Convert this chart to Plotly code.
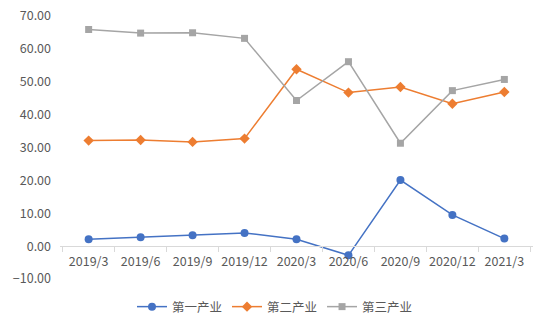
import plotly.graph_objects as go

categories = ["2019/3", "2019/6", "2019/9", "2019/12", "2020/3", "2020/6", "2020/9", "2020/12", "2021/3"]
primary = [2.1, 2.7, 3.3, 4.0, 2.1, -2.8, 20.1, 9.5, 2.3]
secondary = [32.1, 32.3, 31.7, 32.7, 53.8, 46.7, 48.4, 43.3, 46.9]
tertiary = [65.9, 64.8, 64.9, 63.2, 44.3, 56.1, 31.3, 47.3, 50.7]
series_names = ["第一产业", "第二产业", "第三产业"]
ytick_vals = [-10, 0, 10, 20, 30, 40, 50, 60, 70]

font = "Noto Sans CJK SC, Microsoft YaHei, sans-serif"
fig = go.Figure()
fig.add_trace(go.Scatter(x=categories, y=primary, name=series_names[0], mode="lines+markers",
                         line=dict(color="#4472C4", width=1.5), marker=dict(symbol="circle", size=8, color="#4472C4")))
fig.add_trace(go.Scatter(x=categories, y=secondary, name=series_names[1], mode="lines+markers",
                         line=dict(color="#ED7D31", width=1.5), marker=dict(symbol="diamond", size=8, color="#ED7D31")))
fig.add_trace(go.Scatter(x=categories, y=tertiary, name=series_names[2], mode="lines+markers",
                         line=dict(color="#A5A5A5", width=1.5), marker=dict(symbol="square", size=7, color="#A5A5A5")))

fig.update_layout(
    width=550, height=330,
    margin=dict(l=60, r=17, t=16, b=51, autoexpand=False),
    paper_bgcolor="white", plot_bgcolor="white",
    font=dict(family=font, size=12, color="#595959"),
    showlegend=True,
    legend=dict(orientation="h", x=0.5, xanchor="center", xref="container",
                y=23/330, yanchor="middle", yref="container",
                font=dict(size=12.5, color="#595959")),
    hovermode=False,
)
fig.update_xaxes(
    type="category", anchor="free", position=10/80,
    showline=True, linecolor="#D9D9D9", linewidth=1, tickangle=0,
    ticks="outside", tickson="boundaries", ticklen=5, tickcolor="#D9D9D9",
    showgrid=False, zeroline=False, tickfont=dict(size=12.5, color="#595959"),
    ticklabelstandoff=4, automargin=False,
)
fig.update_yaxes(
    range=[-10, 70], tickvals=ytick_vals, tickformat=".2f",
    showline=False, showgrid=False, zeroline=False, ticks="",
    tickfont=dict(size=12.5, color="#595959"), ticklabelstandoff=8, automargin=False,
)
fig.write_html("out.html")
